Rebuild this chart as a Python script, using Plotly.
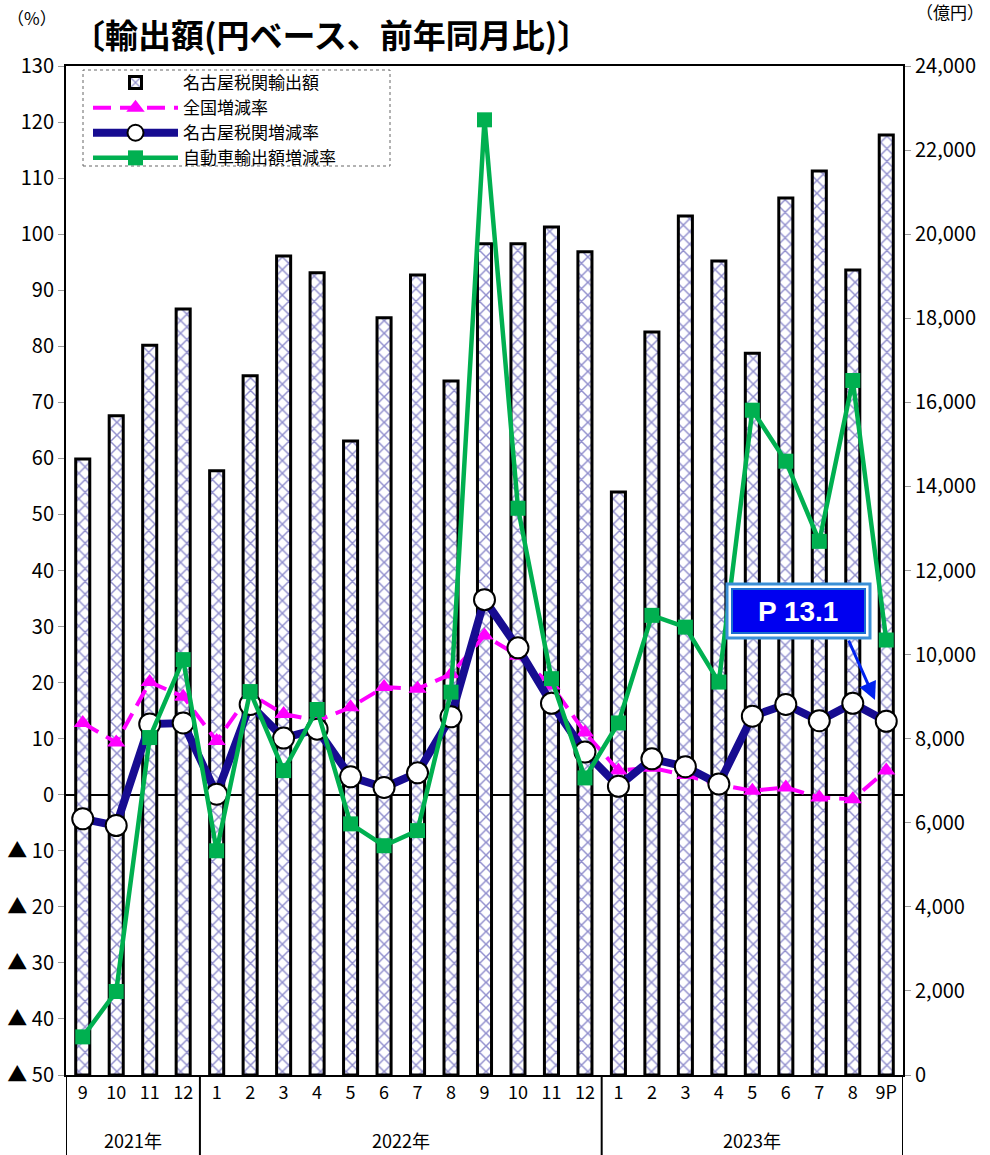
import plotly.graph_objects as go

months = ["9", "10", "11", "12",
          "1", "2", "3", "4", "5", "6", "7", "8", "9", "10", "11", "12",
          "1", "2", "3", "4", "5", "6", "7", "8", "9P"]
years = ["2021年", "2022年", "2023年"]

# 名古屋税関輸出額 (億円)
export_value = [14650, 15680, 17360, 18220,
                14370, 16630, 19480, 19080, 15080, 18010, 19030, 16510, 19770, 19770, 20170, 19580,
                13870, 17670, 20430, 19360, 17170, 20860, 21500, 19150, 22360]
# 全国増減率 (%)
national_rate = [12.8, 9.3, 20.1, 17.5,
                 9.6, 18.0, 14.4, 13.2, 15.6, 19.2, 18.9, 21.5, 28.4, 24.8, 19.5, 11.1,
                 4.3, 4.8, 3.5, 1.8, 0.7, 1.3, -0.5, -0.8, 4.3]
# 名古屋税関増減率 (%)
nagoya_rate = [-4.3, -5.5, 12.6, 12.8,
               0.1, 16.1, 10.1, 11.7, 3.2, 1.3, 3.9, 13.9, 34.8, 26.2, 16.3, 7.6,
               1.5, 6.4, 5.0, 1.9, 14.0, 16.1, 13.2, 16.3, 13.1]
# 自動車輸出額増減率 (%)
auto_rate = [-43.2, -35.1, 10.2, 24.1,
             -10.0, 18.4, 4.3, 15.2, -5.2, -9.1, -6.4, 18.3, 120.4, 51.1, 20.7, 3.0,
             12.8, 32.0, 29.9, 20.1, 68.6, 59.5, 45.2, 73.9, 27.6]

left_ticks = list(range(-50, 131, 10))
left_ticktext = [("▲ " + str(-v)) if v < 0 else str(v) for v in left_ticks]
right_ticks = list(range(0, 24001, 2000))

FONT = "Noto Sans CJK JP"
x = list(range(len(months)))

W, H = 990, 1155
L, R, T, B = 66, 87, 66, 80
PW, PH = W - L - R, H - T - B


def px(xp):
    return (xp - L) / PW


def py(yp):
    return (H - B - yp) / PH


fig = go.Figure()
fig.add_trace(go.Bar(
    x=x, y=export_value, name="名古屋税関輸出額", yaxis="y", width=0.42,
    marker=dict(color="white", line=dict(color="black", width=3),
                pattern=dict(shape="x", fgcolor="#24209c", bgcolor="white", size=9, solidity=0.3)),
))
fig.add_trace(go.Scatter(
    x=x, y=national_rate, name="全国増減率", yaxis="y2", mode="lines+markers",
    line=dict(color="#FF00FF", width=4, dash="18px,9px"),
    marker=dict(symbol="triangle-up", size=16, color="#FF00FF"),
))
fig.add_trace(go.Scatter(
    x=x, y=nagoya_rate, name="名古屋税関増減率", yaxis="y2", mode="lines+markers",
    line=dict(color="#170c91", width=8),
    marker=dict(symbol="circle", size=21, color="white", line=dict(color="black", width=2)),
))
fig.add_trace(go.Scatter(
    x=x, y=auto_rate, name="自動車輸出額増減率", yaxis="y2", mode="lines+markers",
    line=dict(color="#00B050", width=4.5),
    marker=dict(symbol="square", size=15, color="#00B050"),
))

shapes = []
# separators below the axis
for xv in [-0.5, 3.5, 15.5, 24.5]:
    shapes.append(dict(type="line", xref="x", yref="paper", x0=xv, x1=xv, y0=0, y1=-B / PH,
                       line=dict(color="black", width=2)))
# legend dashed frame
shapes.append(dict(type="rect", xref="paper", yref="paper", x0=px(83), x1=px(390), y0=py(166), y1=py(70),
                   line=dict(color="#666666", width=1, dash="dot"), layer="above"))
# callout frames
shapes.append(dict(type="rect", xref="paper", yref="paper", x0=px(727), x1=px(870), y0=py(638), y1=py(584),
                   line=dict(color="#3a8fd6", width=3), fillcolor="white", layer="above"))
shapes.append(dict(type="rect", xref="paper", yref="paper", x0=px(732), x1=px(865), y0=py(633), y1=py(589),
                   line=dict(color="#1a6fd0", width=2), fillcolor="#0000F0", layer="above"))

annotations = [
    dict(text="〔輸出額(円ベース、前年同月比)〕", xref="paper", yref="paper", x=px(70), y=py(34),
         xanchor="left", yanchor="middle", showarrow=False,
         font=dict(family=FONT, size=33, color="black", weight="bold")),
    dict(text="（%）", xref="paper", yref="paper", x=px(32), y=py(18), xanchor="center", yanchor="middle",
         showarrow=False, font=dict(family=FONT, size=17, color="black")),
    dict(text="（億円）", xref="paper", yref="paper", x=px(950), y=py(12), xanchor="center", yanchor="middle",
         showarrow=False, font=dict(family=FONT, size=17, color="black")),
    dict(text="P 13.1", xref="paper", yref="paper", x=px(798), y=py(611), xanchor="center", yanchor="middle",
         showarrow=False, font=dict(family="Liberation Sans", size=28, color="white", weight="bold")),
    dict(text="", xref="paper", yref="paper", x=px(875), y=py(700), ax=-27, ay=-61,
         axref="pixel", ayref="pixel", showarrow=True, arrowhead=2, arrowsize=1.2, arrowwidth=3,
         arrowcolor="#0022EE"),
]
year_pos = [1.5, 9.5, 20]
for yr, xp in zip(years, year_pos):
    annotations.append(dict(text=yr, xref="x", yref="paper", x=xp, y=py(1140), showarrow=False,
                            xanchor="center", yanchor="middle", font=dict(family=FONT, size=18, color="black")))

fig.update_layout(
    width=W, height=H,
    margin=dict(l=L, r=R, t=T, b=B, autoexpand=False),
    paper_bgcolor="white", plot_bgcolor="white",
    font=dict(family=FONT, color="black"),
    showlegend=True,
    legend=dict(x=px(88), y=py(65), xanchor="left", yanchor="top", bgcolor="rgba(0,0,0,0)",
                borderwidth=0, font=dict(family=FONT, size=17), itemwidth=85,
                tracegroupgap=0, traceorder="normal"),
    bargap=0.5,
    xaxis=dict(range=[-0.5, 24.5], tickmode="array", tickvals=x, ticktext=months, automargin=False,
               showline=True, mirror=True, linecolor="black", linewidth=2, ticks="",
               showgrid=False, zeroline=False, tickfont=dict(family=FONT, size=18)),
    yaxis=dict(range=[0, 24000], side="right", tickmode="array", tickvals=right_ticks, automargin=False,
               tickformat=",d", showgrid=False, zeroline=False, showline=True, linecolor="black",
               linewidth=2, ticks="outside", ticklen=6, tickcolor="#999999",
               tickfont=dict(family=FONT, size=20)),
    yaxis2=dict(range=[-50, 130], side="left", overlaying="y", anchor="x", tickmode="array",
                tickvals=left_ticks, ticktext=left_ticktext, showgrid=False, automargin=False,
                zeroline=True, zerolinecolor="black", zerolinewidth=2,
                showline=True, linecolor="black", linewidth=2, ticks="outside", ticklen=6,
                tickcolor="#999999", tickfont=dict(family=FONT, size=20)),
    shapes=shapes,
    annotations=annotations,
)

fig.write_html("out.html")
